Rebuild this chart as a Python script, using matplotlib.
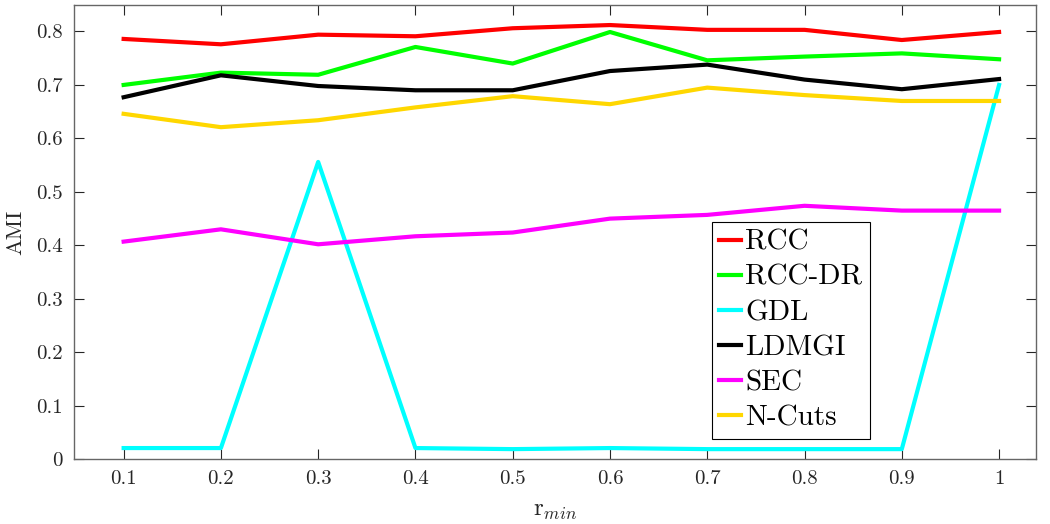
import matplotlib

matplotlib.use("Agg")
import matplotlib.pyplot as plt

# r_min values on the x axis
r_min = [0.1, 0.2, 0.3, 0.4, 0.5, 0.6, 0.7, 0.8, 0.9, 1.0]

# AMI per method
rcc = [0.786, 0.776, 0.794, 0.791, 0.806, 0.812, 0.803, 0.803, 0.784, 0.799]
rcc_dr = [0.700, 0.723, 0.719, 0.771, 0.740, 0.799, 0.746, 0.753, 0.759, 0.748]
gdl = [0.021, 0.021, 0.556, 0.021, 0.019, 0.021, 0.019, 0.019, 0.019, 0.700]
ldmgi = [0.677, 0.718, 0.698, 0.690, 0.690, 0.726, 0.738, 0.710, 0.692, 0.711]
sec = [0.407, 0.430, 0.402, 0.417, 0.424, 0.450, 0.457, 0.474, 0.465, 0.465]
ncuts = [0.646, 0.621, 0.634, 0.658, 0.679, 0.664, 0.695, 0.681, 0.670, 0.670]

labels = ["RCC", "RCC-DR", "GDL", "LDMGI", "SEC", "N-Cuts"]
colors = ["#ff0000", "#00ff00", "#00ffff", "#000000", "#ff00ff", "#ffd700"]

plt.rcParams["font.family"] = "serif"
plt.rcParams["font.serif"] = ["cmr10"]
plt.rcParams["mathtext.fontset"] = "cm"
plt.rcParams["axes.formatter.use_mathtext"] = True

fig = plt.figure(figsize=(10.5, 5.24), dpi=100)
ax = fig.add_axes([0.0705, 0.1235, 0.9162, 0.8675])

for series, lab, col in zip([rcc, rcc_dr, gdl, ldmgi, sec, ncuts], labels, colors):
    ax.plot(r_min, series, color=col, linewidth=3, label=lab)

ax.set_xlim(0.049, 1.038)
ax.set_ylim(0, 0.85)
ax.set_xticks(r_min)
ax.set_xticklabels(["0.1", "0.2", "0.3", "0.4", "0.5", "0.6", "0.7", "0.8", "0.9", "1"])
ax.set_yticks([0, 0.1, 0.2, 0.3, 0.4, 0.5, 0.6, 0.7, 0.8])
ax.set_yticklabels(["0", "0.1", "0.2", "0.3", "0.4", "0.5", "0.6", "0.7", "0.8"])
ax.tick_params(direction="in", length=7, width=0.8, top=True, right=True,
               labelsize=15, colors="0.15", pad=8)
for s in ax.spines.values():
    s.set_color("0.4")
    s.set_linewidth(1)

ax.set_xlabel(r"$\mathrm{r}_{min}$", fontsize=18, color="0.15", labelpad=8)
ax.set_ylabel("AMI", fontsize=16, color="0.15", labelpad=8)

leg = ax.legend(loc="upper left", bbox_to_anchor=(0.663, 0.522), fontsize=21,
                fancybox=False, edgecolor="black", framealpha=1,
                handlelength=0.75, handletextpad=0.15, borderpad=0.25,
                labelspacing=0.3, borderaxespad=0)
leg.get_frame().set_linewidth(0.8)

fig.savefig("out.png", dpi=100)
plt.close(fig)
